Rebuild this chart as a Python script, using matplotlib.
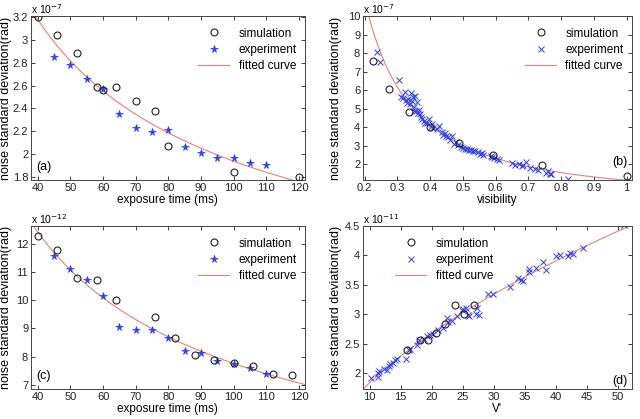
import numpy as np
import matplotlib
matplotlib.use('Agg')
import matplotlib.pyplot as plt
from matplotlib.ticker import MultipleLocator, FormatStrFormatter

plt.rcParams['font.family'] = ['Liberation Sans', 'DejaVu Sans']

# (a) exposure time (ms) vs noise std, units of 1e-7 rad
a_sim_t = [40, 46, 52, 58, 60, 64, 70, 76, 80, 100, 120]
a_sim_std = [3.2, 3.045, 2.884, 2.585, 2.562, 2.588, 2.468, 2.377, 2.073, 1.841, 1.8]
a_exp_t = [45, 50, 55, 60, 65, 70, 75, 80, 85, 90, 95, 100, 105, 110]
a_exp_std = [2.854, 2.781, 2.655, 2.570, 2.348, 2.225, 2.196, 2.21, 2.064, 2.005,
             1.961, 1.967, 1.917, 1.906]

# (b) visibility vs noise std, units of 1e-7 rad
b_sim_v = [0.2265, 0.2745, 0.335, 0.40, 0.488, 0.592, 0.743, 1.0]
b_sim_std = [7.56, 6.07, 4.80, 4.03, 3.12, 2.49, 1.97, 1.39]
b_exp_v = [0.237, 0.248, 0.305, 0.312, 0.318, 0.322, 0.325, 0.328, 0.333, 0.338,
           0.342, 0.345, 0.348, 0.350, 0.352, 0.355, 0.358, 0.360, 0.362, 0.365,
           0.368, 0.372, 0.375, 0.380, 0.385, 0.390, 0.398, 0.402, 0.405, 0.410,
           0.420, 0.428, 0.435, 0.440, 0.445, 0.450, 0.455, 0.462, 0.468, 0.472,
           0.478, 0.485, 0.495, 0.500, 0.505, 0.512, 0.518, 0.525, 0.530, 0.538,
           0.545, 0.552, 0.558, 0.562, 0.585, 0.590, 0.595, 0.605, 0.610, 0.650,
           0.660, 0.670, 0.680, 0.685, 0.692, 0.705, 0.720, 0.728, 0.755, 0.760,
           0.765, 0.770, 0.820]
b_exp_std = [8.05, 7.52, 6.55, 5.65, 5.55, 5.90, 5.45, 5.30, 5.50, 5.25,
             5.85, 5.40, 5.62, 5.10, 4.90, 5.70, 4.85, 5.35, 4.75, 4.95,
             4.70, 4.55, 4.45, 4.35, 4.20, 4.25, 4.45, 4.00, 4.15, 3.95,
             3.90, 4.05, 3.75, 3.60, 3.70, 3.55, 3.45, 3.30, 3.50, 3.10,
             3.20, 3.05, 2.95, 2.90, 2.85, 2.80, 2.75, 2.78, 2.70, 2.72,
             2.65, 2.55, 2.62, 2.50, 2.45, 2.40, 2.35, 2.30, 2.25, 2.05,
             1.95, 2.00, 1.90, 1.95, 2.10, 1.80, 1.75, 1.70, 1.55, 1.65,
             1.45, 1.50, 1.20]

# (c) exposure time (ms) vs noise std, units of 1e-12 rad
c_sim_t = [40, 46, 52, 58, 64, 76, 82, 88, 94, 100, 106, 112, 118]
c_sim_std = [12.29, 11.79, 10.81, 10.71, 9.995, 9.41, 8.65, 8.06, 7.87, 7.77,
             7.65, 7.40, 7.34]
c_exp_t = [45, 50, 55, 60, 65, 70, 75, 80, 85, 90, 95, 100, 105, 110]
c_exp_std = [11.59, 11.13, 10.73, 10.17, 9.06, 8.94, 8.94, 8.66, 8.20, 8.12,
             7.84, 7.73, 7.60, 7.39]

# (d) V' vs noise std, units of 1e-11 rad
d_sim_v = [16.0, 18.2, 19.35, 20.7, 22.2, 23.75, 25.25, 26.85]
d_sim_std = [2.40, 2.57, 2.56, 2.69, 2.83, 3.15, 3.01, 3.16]
d_exp_v = [10.3, 11.3, 11.35, 11.5, 12.3, 12.8, 13.1, 13.3, 13.8, 14.1,
           14.5, 15.9, 16.3, 16.55, 17.6, 17.9, 18.7, 19.2, 19.8, 20.3,
           21.1, 21.9, 22.5, 22.7, 23.3, 24.1, 24.9, 25.1, 25.6, 25.8,
           26.1, 27.2, 27.7, 27.3, 29.1, 29.9, 32.7, 34.0, 34.5, 34.7,
           35.7, 35.7, 36.8, 38.0, 38.4, 40.1, 40.7, 42.0, 42.4, 42.8,
           44.4, 51.0]
d_exp_std = [1.92, 2.00, 1.93, 2.03, 2.07, 2.06, 2.12, 2.16, 2.18, 2.22,
             2.24, 2.24, 2.39, 2.41, 2.48, 2.56, 2.58, 2.63, 2.65, 2.67,
             2.73, 2.77, 2.94, 2.87, 2.88, 2.97, 3.07, 3.09, 3.11, 2.98,
             2.97, 3.01, 2.99, 3.11, 3.35, 3.35, 3.46, 3.62, 3.58, 3.57,
             3.77, 3.71, 3.79, 3.89, 3.75, 3.99, 4.00, 3.99, 4.04, 4.03,
             4.13, 4.51]


def power_fit(x, y):
    # least squares fit y = A * x^B in log space
    b, loga = np.polyfit(np.log(x), np.log(y), 1)
    return lambda t: np.exp(loga) * t ** b


blue = '#2d3fe3'
red = '#ee7f78'
tick_fs = 8
label_fs = 8.5
leg_fs = 8.5

fig = plt.figure(figsize=(6.4, 4.19), dpi=100)

panels = [
    dict(rect=[0.0484, 0.5704, 0.428, 0.3914], sim=(a_sim_t, a_sim_std),
         exp=(a_exp_t, a_exp_std), mk='*', xlim=(37.9, 121.8), ylim=(1.771, 3.211),
         xstep=10, ystep=0.2, xlabel='exposure time (ms)', exp_txt='-7',
         tag='(a)', tagpos=(0.02, 0.08, 'left'), legloc='upper right', ylx=-0.069),
    dict(rect=[0.5672, 0.5704, 0.420, 0.3914], sim=(b_sim_v, b_sim_std),
         exp=(b_exp_v, b_exp_std), mk='x', xlim=(0.195, 1.016), ylim=(1.15, 10.0),
         xstep=0.1, ystep=1, xlabel='visibility', exp_txt='-7',
         tag='(b)', tagpos=(0.985, 0.11, 'right'), legloc='upper right', ylx=-0.078),
    dict(rect=[0.0484, 0.0716, 0.428, 0.389], sim=(c_sim_t, c_sim_std),
         exp=(c_exp_t, c_exp_std), mk='*', xlim=(37.9, 121.8), ylim=(6.85, 12.64),
         xstep=10, ystep=1, xlabel='exposure time (ms)', exp_txt='-12',
         tag='(c)', tagpos=(0.02, 0.08, 'left'), legloc='upper right', ylx=-0.069),
    dict(rect=[0.5672, 0.0716, 0.420, 0.389], sim=(d_sim_v, d_sim_std),
         exp=(d_exp_v, d_exp_std), mk='x', xlim=(8.94, 52.3), ylim=(1.73, 4.5),
         xstep=5, ystep=0.5, xlabel="V'", exp_txt='-11',
         tag='(d)', tagpos=(0.985, 0.05, 'right'), legloc='upper left', ylx=-0.078),
]

for p in panels:
    ax = fig.add_axes(p['rect'])
    sx, sy = p['sim']
    ex, ey = p['exp']
    fit = power_fit(np.r_[sx, ex], np.r_[sy, ey])
    xx = np.linspace(p['xlim'][0], p['xlim'][1], 300)

    ax.plot(sx, sy, 'o', mfc='none', mec='#222222', ms=5, mew=0.8,
            label='simulation', zorder=4)
    if p['mk'] == '*':
        ax.plot(ex, ey, '*', color=blue, ms=5.5, mew=0.5, label='experiment', zorder=3)
    else:
        ax.plot(ex, ey, 'x', color=blue, ms=4, mew=0.7, label='experiment', zorder=3)
    ax.plot(xx, fit(xx), '-', color=red, lw=0.8, label='fitted curve', zorder=2)

    ax.set_xlim(*p['xlim'])
    ax.set_ylim(*p['ylim'])
    ax.xaxis.set_major_locator(MultipleLocator(p['xstep']))
    ax.yaxis.set_major_locator(MultipleLocator(p['ystep']))
    ax.xaxis.set_major_formatter(FormatStrFormatter('%g'))
    ax.yaxis.set_major_formatter(FormatStrFormatter('%g'))
    ax.tick_params(direction='in', top=True, right=True, length=3, width=0.6,
                   labelsize=tick_fs, pad=2, colors='#222222')
    for s in ax.spines.values():
        s.set_linewidth(0.7)
        s.set_color('#444444')

    ax.set_xlabel(p['xlabel'], fontsize=label_fs, labelpad=1)
    ax.set_ylabel('noise standard deviation(rad)', fontsize=9)
    ax.yaxis.set_label_coords(p['ylx'], 0.5)
    ax.text(0.0, 1.012, r'x 10$^{%s}$' % p['exp_txt'], transform=ax.transAxes,
            ha='left', va='baseline', fontsize=7.5)
    tx, ty, ha = p['tagpos']
    ax.text(tx, ty, p['tag'], transform=ax.transAxes, ha=ha, va='center',
            fontsize=9)

    if p['legloc'] == 'upper right':
        ax.legend(loc='upper right', bbox_to_anchor=(1.0, 0.98), frameon=False,
                  fontsize=leg_fs, handlelength=2.6, handletextpad=0.8,
                  labelspacing=0.35, borderaxespad=0.3)
    else:
        ax.legend(loc='upper left', bbox_to_anchor=(0.09, 0.98), frameon=False,
                  fontsize=leg_fs, handlelength=2.6, handletextpad=0.8,
                  labelspacing=0.35, borderaxespad=0.3)

fig.savefig('out.png', dpi=100)
